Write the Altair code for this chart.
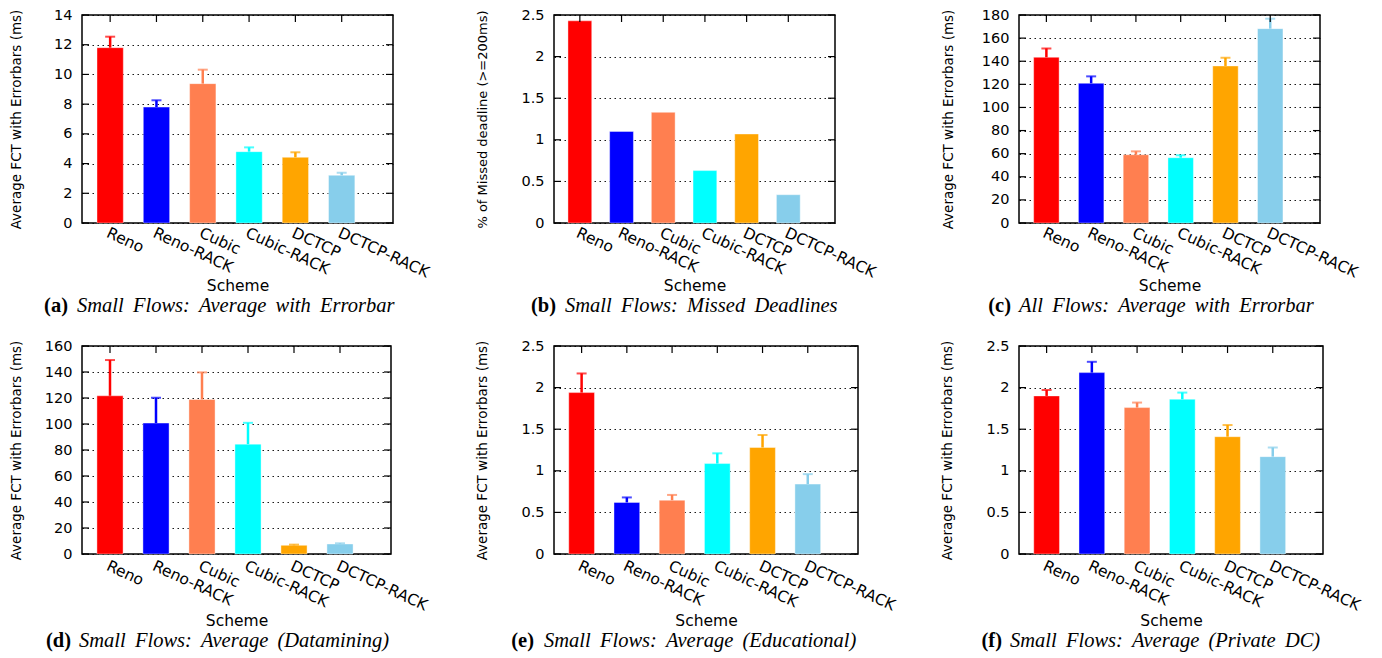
import altair as alt
import pandas as pd

SCHEMES = ["Reno", "Reno-RACK", "Cubic", "Cubic-RACK", "DCTCP", "DCTCP-RACK"]
COLORS = ["#ff0000", "#0000ff", "#ff7f50", "#00ffff", "#ffa500", "#87ceeb"]

A_MEAN = [11.8, 7.8, 9.38, 4.8, 4.42, 3.21]
A_UPPER = [12.54, 8.26, 10.32, 5.09, 4.76, 3.39]
A_TICKS = [0, 2, 4, 6, 8, 10, 12, 14]

B_MEAN = [2.43, 1.10, 1.33, 0.63, 1.07, 0.34]
B_TICKS = [0, 0.5, 1, 1.5, 2, 2.5]

C_MEAN = [143.4, 120.9, 59.1, 56.5, 135.9, 168.2]
C_UPPER = [151.1, 126.9, 62.0, 58.6, 143.0, 176.8]
C_TICKS = [0, 20, 40, 60, 80, 100, 120, 140, 160, 180]

D_MEAN = [121.7, 100.7, 118.9, 84.5, 6.7, 7.7]
D_UPPER = [149.2, 120.2, 139.7, 100.9, 7.2, 8.2]
D_TICKS = [0, 20, 40, 60, 80, 100, 120, 140, 160]

E_MEAN = [1.94, 0.62, 0.646, 1.087, 1.28, 0.84]
E_UPPER = [2.17, 0.68, 0.71, 1.21, 1.43, 0.96]
E_TICKS = [0, 0.5, 1, 1.5, 2, 2.5]

F_MEAN = [1.90, 2.18, 1.76, 1.86, 1.41, 1.17]
F_UPPER = [1.97, 2.31, 1.82, 1.94, 1.55, 1.28]
F_TICKS = [0, 0.5, 1, 1.5, 2, 2.5]

LETTERS = ["a", "b", "c", "d", "e", "f"]
CAPTIONS = [
    "Small Flows: Average with Errorbar",
    "Small Flows: Missed Deadlines",
    "All Flows: Average with Errorbar",
    "Small Flows: Average (Datamining)",
    "Small Flows: Average (Educational)",
    "Small Flows: Average (Private DC)",
]
Y_TITLES = [
    "Average FCT with Errorbars (ms)",
    "% of Missed deadline (>=200ms)",
    "Average FCT with Errorbars (ms)",
    "Average FCT with Errorbars (ms)",
    "Average FCT with Errorbars (ms)",
    "Average FCT with Errorbars (ms)",
]

SANS = "DejaVu Sans"
SERIF = "Liberation Serif"
H = 208


def panel(i, means, uppers, yticks, width, title_x, bold_x, text_x, row, ytitle_size=13.5):
    if row == 0:
        lab_pad, scheme_y, cap_y = 2, 62, 291
    else:
        lab_pad, scheme_y, cap_y = 4, 66, 295
    df = pd.DataFrame({"scheme": SCHEMES, "idx": list(range(len(SCHEMES))), "value": means})
    if uppers is not None:
        df["upper"] = uppers
    ymax = yticks[-1]
    xs = alt.Scale(domain=[-0.5, 6], nice=False, zero=False)
    ys = alt.Scale(domain=[0, ymax], nice=False, zero=True)
    label_expr = "[" + ",".join("'%s'" % s for s in SCHEMES) + "][datum.value]"
    xaxis = alt.Axis(
        values=list(range(len(SCHEMES))), labelExpr=label_expr, labelAngle=25,
        labelAlign="left", labelBaseline="top", labelPadding=lab_pad, labelFont=SANS,
        labelFontSize=15.5, labelColor="black", labelOverlap=False, labelFlush=False,
        ticks=False, domain=False, grid=False, title="Scheme", titleFont=SANS,
        titleFontSize=15.5, titleFontWeight="normal", titleColor="black",
        titleX=width / 2, titleY=scheme_y, titleBaseline="middle", titleAlign="center",
    )
    yaxis = alt.Axis(
        values=yticks, labelExpr="datum.value + ''", labelFont=SANS, labelFontSize=14.5,
        labelColor="black", labelPadding=10, labelFlush=False, labelOverlap=False,
        ticks=False, domain=False,
        grid=True, gridColor="black", gridDash=[1.5, 3.5], gridWidth=1, gridOpacity=0.9,
        title=Y_TITLES[i], titleFont=SANS, titleFontSize=ytitle_size, titleFontWeight="normal",
        titleColor="black", titleX=title_x, titleY=H / 2, titleAngle=270,
        titleBaseline="middle", titleAlign="center",
    )
    color = alt.Color("scheme:N", scale=alt.Scale(domain=SCHEMES, range=COLORS), legend=None)
    base = alt.Chart(df)
    bw = 0.55 * width / 6.5
    xq = alt.X("idx:Q", scale=xs, axis=xaxis)

    def yq(field):
        return alt.Y(field, scale=ys, axis=yaxis)

    layers = [
        base.mark_bar(size=bw, stroke="white", strokeWidth=1, strokeOpacity=0.4).encode(
            x=xq, y=yq("value:Q"), color=color)
    ]
    if uppers is not None:
        layers.append(base.mark_rule(strokeWidth=2.5).encode(
            x=xq, y=yq("value:Q"), y2="upper:Q", color=color))
        layers.append(base.mark_tick(orient="horizontal", size=10, thickness=2).encode(
            x=xq, y=yq("upper:Q"), color=color))
    tdf = pd.DataFrame({"t": yticks})
    layers.append(alt.Chart(tdf).mark_rule(color="black", strokeWidth=1.2).encode(
        y=yq("t:Q"), x=alt.value(0), x2=alt.value(7)))
    layers.append(alt.Chart(tdf).mark_rule(color="black", strokeWidth=1.2).encode(
        y=yq("t:Q"), x=alt.value(width - 7), x2=alt.value(width)))
    layers.append(base.mark_rule(color="black", strokeWidth=1.2).encode(
        x=xq, y=alt.value(0), y2=alt.value(7)))
    cap = CAPTIONS[i].replace(" ", " \u2009")
    cdf = pd.DataFrame({"b": ["(%s)" % LETTERS[i]], "c": [cap]})
    layers.append(alt.Chart(cdf).mark_text(
        font=SERIF, fontSize=20.5, fontWeight="bold", align="right", baseline="middle",
        color="black").encode(text="b:N", x=alt.value(bold_x), y=alt.value(cap_y)))
    layers.append(alt.Chart(cdf).mark_text(
        font=SERIF, fontSize=20.5, fontStyle="italic", align="left", baseline="middle",
        color="black").encode(text="c:N", x=alt.value(text_x), y=alt.value(cap_y)))
    return alt.layer(*layers).properties(width=width, height=H)


pa = panel(0, A_MEAN, A_UPPER, A_TICKS, 311, -66, -14, -5, 0)
pb = panel(1, B_MEAN, None, B_TICKS, 281, -72, 2, 11, 0, ytitle_size=13)
pc = panel(2, C_MEAN, C_UPPER, C_TICKS, 301, -71, -8, 0, 0)
pd_ = panel(3, D_MEAN, D_UPPER, D_TICKS, 309, -66, -11, -3, 1)
pe = panel(4, E_MEAN, E_UPPER, E_TICKS, 304, -72, -20, -10, 1)
pf = panel(5, F_MEAN, F_UPPER, F_TICKS, 304, -72, -17, -9, 1)

chart = alt.concat(
    pa, pb, pc, pd_, pe, pf, columns=3, align="each", bounds="flush",
    spacing={"row": 123, "column": 161},
).properties(
    padding={"left": 0, "top": -2, "right": 0, "bottom": 0},
    background="white",
).configure_view(stroke="black", strokeWidth=1.5)

chart.save("out.html", embed_options={"renderer": "svg", "actions": False})
